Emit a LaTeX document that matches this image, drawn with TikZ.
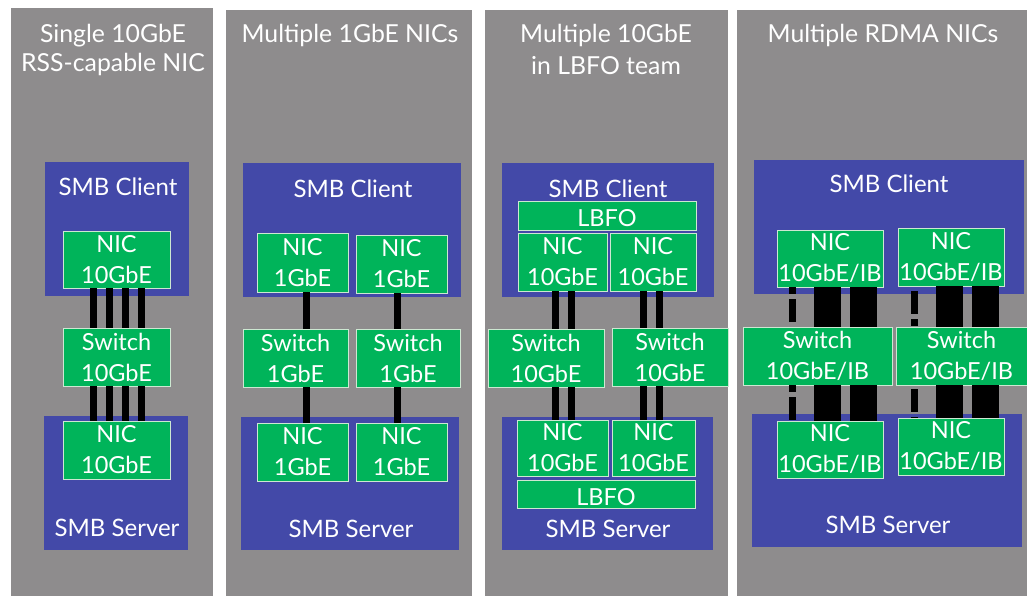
\documentclass[tikz,border=0pt]{standalone}
\usepackage{fontspec}
\setmainfont{Lato}
\definecolor{panelgray}{RGB}{142,140,141}
\definecolor{hostblue}{RGB}{67,73,168}
\definecolor{nicgreen}{RGB}{0,180,90}
\definecolor{nicedge}{RGB}{205,232,210}

\tikzset{
  panel/.style={fill=panelgray, draw=none},
  host/.style={fill=hostblue, draw=none},
  dev/.style={fill=nicgreen, draw=nicedge, line width=0.8pt, text=white, align=center,
              font=\fontsize{23.5}{31}\selectfont,
              execute at begin node={\rule{0pt}{23pt}}},
  title/.style={text=white, font=\fontsize{24.8}{29}\selectfont, anchor=base, inner sep=0pt},
  hostlabel/.style={text=white, font=\fontsize{24}{26}\selectfont, anchor=base, inner sep=0pt},
  link/.style={line width=7pt, black},
  fatlink/.style={line width=27pt, black},
  ddlink/.style={line width=7pt, black, dash pattern=on 7pt off 5pt on 23pt off 5pt},
}
% box from (x1,y1) to (x2,y2): name, x1, y1, x2, y2, style, text
\newcommand\bx[7]{\node[#6, anchor=north west, inner sep=0pt, outer sep=0pt,
  minimum width={(#4-#2)*1pt}, minimum height={(#5-#3)*1pt}] (#1) at (#2,#3) {#7};}

\begin{document}
\begin{tikzpicture}[x=1pt, y=-1pt]
\fill[white] (0,0) rectangle (1027,596);
\useasboundingbox (0,0) rectangle (1027,596);

% ---------- panels ----------
\bx{p1}{11}{8}{213}{596}{panel}{}
\bx{p2}{226}{10}{472}{596}{panel}{}
\bx{p3}{485}{10}{728}{596}{panel}{}
\bx{p4}{737}{10}{1027}{596}{panel}{}

\node[title] (t1a) at (113,43) {Single 10GbE};
\node[title] (t1b) at (113,72) {RSS-capable NIC};
\node[title] (t2)  at (350,43) {Multiple 1GbE NICs};
\node[title] (t3a) at (606,43) {Multiple 10GbE};
\node[title] (t3b) at (606,75) {in LBFO team};
\node[title] (t4)  at (883,43) {Multiple RDMA NICs};

% ---------- single 10GbE ----------
\bx{c1}{45}{162}{189}{296}{host}{}
\bx{s1}{44}{416}{188}{550}{host}{}
\node[hostlabel] (c1l) at (118,195) {SMB Client};
\node[hostlabel] (s1l) at (117,536) {SMB Server};
\bx{n1a}{63}{231}{170}{288}{dev}{NIC\\10GbE}
\bx{sw1}{63}{328}{170}{386}{dev}{Switch\\10GbE}
\bx{n1b}{63}{421}{170}{479}{dev}{NIC\\10GbE}
\foreach \x in {93,109,125,141}{
  \draw[link] (n1a.south -| \x,0) -- (sw1.north -| \x,0);
  \draw[link] (sw1.south -| \x,0) -- (n1b.north -| \x,0);
}

% ---------- multiple 1GbE ----------
\bx{c2}{243}{163}{461}{297}{host}{}
\bx{s2}{241}{417}{459}{550}{host}{}
\node[hostlabel] (c2l) at (353,197) {SMB Client};
\node[hostlabel] (s2l) at (351,537) {SMB Server};
\bx{n2a}{257}{233}{348}{292}{dev}{NIC\\1GbE}
\bx{n2b}{356}{235}{447}{293}{dev}{NIC\\1GbE}
\bx{sw2a}{243}{329}{348}{387}{dev}{Switch\\1GbE}
\bx{sw2b}{356}{329}{460}{387}{dev}{Switch\\1GbE}
\bx{n2c}{257}{423}{348}{481}{dev}{NIC\\1GbE}
\bx{n2d}{356}{423}{447}{481}{dev}{NIC\\1GbE}
\draw[link] (n2a.south -| 306,0) -- (sw2a.north -| 306,0);
\draw[link] (sw2a.south -| 306,0) -- (n2c.north -| 306,0);
\draw[link] (n2b.south -| 397,0) -- (sw2b.north -| 397,0);
\draw[link] (sw2b.south -| 397,0) -- (n2d.north -| 397,0);

% ---------- 10GbE in LBFO team ----------
\bx{c3}{502}{163}{714}{297}{host}{}
\bx{s3}{502}{417}{713}{550}{host}{}
\node[hostlabel] (c3l) at (608,197) {SMB Client};
\node[hostlabel] (s3l) at (608,537) {SMB Server};
\bx{lb3a}{518}{201}{696}{230}{dev}{LBFO}
\bx{n3a}{518}{233}{607}{291}{dev}{NIC\\10GbE}
\bx{n3b}{610}{233}{696}{291}{dev}{NIC\\10GbE}
\bx{sw3a}{488}{329}{604}{387}{dev}{Switch\\10GbE}
\bx{sw3b}{612}{328}{728}{386}{dev}{Switch\\10GbE}
\bx{n3c}{517}{420}{608}{476}{dev}{NIC\\10GbE}
\bx{n3d}{612}{420}{695}{476}{dev}{NIC\\10GbE}
\bx{lb3b}{517}{480}{695}{508}{dev}{LBFO}
\foreach \x in {555,571}{
  \draw[link] (n3a.south -| \x,0) -- (sw3a.north -| \x,0);
  \draw[link] (sw3a.south -| \x,0) -- (n3c.north -| \x,0);
}
\foreach \x in {643,659}{
  \draw[link] (n3b.south -| \x,0) -- (sw3b.north -| \x,0);
  \draw[link] (sw3b.south -| \x,0) -- (n3d.north -| \x,0);
}

% ---------- multiple RDMA ----------
\bx{c4}{754}{160}{1024}{294}{host}{}
\bx{s4}{752}{414}{1022}{547}{host}{}
\node[hostlabel] (c4l) at (889,193) {SMB Client};
\node[hostlabel] (s4l) at (888,533) {SMB Server};
\bx{n4a}{777}{230}{883}{287}{dev}{NIC\\10GbE/IB}
\bx{n4b}{898}{228}{1004}{286}{dev}{NIC\\10GbE/IB}
\bx{sw4a}{743}{327}{892}{385}{dev}{Switch\\10GbE/IB}
\bx{sw4b}{896}{327}{1027}{385}{dev}{Switch\\10GbE/IB}
\bx{n4c}{777}{421}{883}{478}{dev}{NIC\\10GbE/IB}
\bx{n4d}{898}{418}{1004}{475}{dev}{NIC\\10GbE/IB}
\foreach \x in {827.5,863}{
  \draw[fatlink] (n4a.south -| \x,0) -- (sw4a.north -| \x,0);
  \draw[fatlink] (sw4a.south -| \x,0) -- (n4c.north -| \x,0);
}
\foreach \x in {949,985}{
  \draw[fatlink] (n4b.south -| \x,0) -- (sw4b.north -| \x,0);
  \draw[fatlink] (sw4b.south -| \x,0) -- (n4d.north -| \x,0);
}
\draw[ddlink] (n4a.south -| 792,0) -- (sw4a.north -| 792,0);
\draw[ddlink] (sw4a.south -| 792,0) -- (n4c.north -| 792,0);
\draw[ddlink, dash phase=7pt] (n4b.south -| 914,0) -- (sw4b.north -| 914,0);
\draw[ddlink, dash phase=8pt] (sw4b.south -| 914,0) -- (n4d.north -| 914,0);
\end{tikzpicture}
\end{document}
